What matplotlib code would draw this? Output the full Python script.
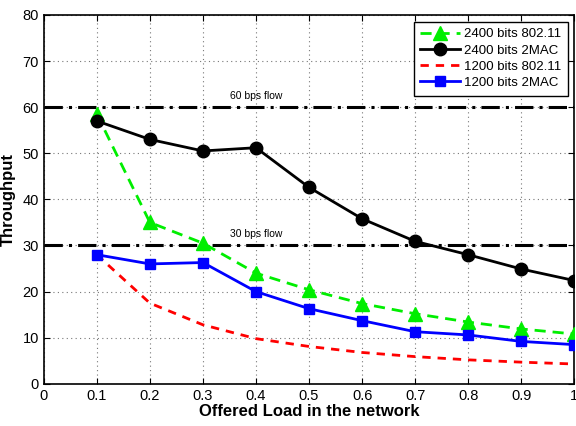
import matplotlib
matplotlib.use("Agg")
import matplotlib.pyplot as plt

plt.rcParams['font.family'] = ['Liberation Sans', 'DejaVu Sans']

load = [0.1, 0.2, 0.3, 0.4, 0.5, 0.6, 0.7, 0.8, 0.9, 1.0]
g2400_80211 = [58.5, 35.0, 30.5, 24.0, 20.4, 17.4, 15.2, 13.4, 11.9, 10.8]
g2400_2mac = [57.0, 53.0, 50.5, 51.2, 42.6, 35.8, 30.9, 28.0, 24.9, 22.4]
g1200_80211 = [28.0, 17.5, 12.8, 9.8, 8.1, 6.8, 5.9, 5.2, 4.7, 4.3]
g1200_2mac = [28.0, 26.0, 26.3, 20.0, 16.3, 13.7, 11.3, 10.6, 9.2, 8.5]
flows = [60, 30]
flow_labels = ["60 bps flow", "30 bps flow"]

fig = plt.figure(figsize=(5.76, 4.26), dpi=100)
ax = fig.add_axes([0.076, 0.099, 0.921, 0.866])

for f, lab in zip(flows, flow_labels):
    ax.axhline(f, color='black', linestyle=(0, (6, 2, 1, 2)), linewidth=2.2, zorder=2)
    ax.text(0.4, f + 1.3, lab, fontsize=7.5, ha='center', va='bottom')

ax.plot(load, g2400_80211, color='#00ee00', linestyle=(0, (4, 2.5)), linewidth=2,
        marker='^', markersize=9.5, label='2400 bits 802.11', zorder=4)
ax.plot(load, g2400_2mac, color='black', linestyle='-', linewidth=2,
        marker='o', markersize=9, label='2400 bits 2MAC', zorder=4)
ax.plot(load, g1200_80211, color='red', linestyle=(0, (3, 2.5)), linewidth=2,
        label='1200 bits 802.11', zorder=4)
ax.plot(load, g1200_2mac, color='blue', linestyle='-', linewidth=2,
        marker='s', markersize=7, label='1200 bits 2MAC', zorder=4)

ax.set_xlim(0, 1)
ax.set_ylim(0, 80)
ax.set_xticks([0, 0.1, 0.2, 0.3, 0.4, 0.5, 0.6, 0.7, 0.8, 0.9, 1])
ax.set_xticklabels(['0', '0.1', '0.2', '0.3', '0.4', '0.5', '0.6', '0.7', '0.8', '0.9', '1'])
ax.set_yticks(range(0, 81, 10))
ax.tick_params(direction='in', top=True, right=True, labelsize=10.5, length=4)
ax.grid(True, linestyle=(0, (1, 3)), color='#777777', linewidth=0.8)
for s in ax.spines.values():
    s.set_linewidth(1.2)

ax.set_xlabel('Offered Load in the network', fontsize=12, fontweight='bold', labelpad=1)
ax.set_ylabel('Throughput', fontsize=12, fontweight='bold')
ax.yaxis.set_label_coords(-0.052, 0.5)

leg = ax.legend(loc='upper right', fontsize=9.5, fancybox=False, framealpha=1,
                edgecolor='black', handlelength=3, borderaxespad=0.5,
                labelspacing=0.3, handletextpad=0.3, borderpad=0.5)
leg.get_frame().set_linewidth(1.0)

fig.savefig('out.png', dpi=100)
